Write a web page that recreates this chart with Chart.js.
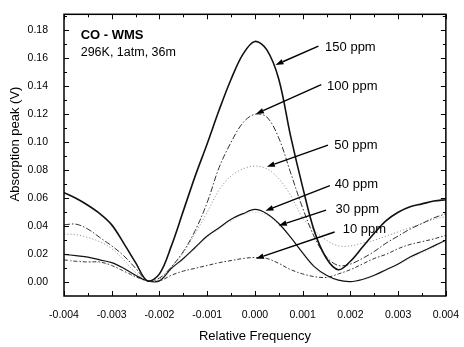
<!DOCTYPE html>
<html>
<head>
<meta charset="utf-8">
<script src="https://cdn.jsdelivr.net/npm/chart.js@4/dist/chart.umd.min.js"></script>
<style>
html,body{margin:0;padding:0;background:#fff;}
canvas{display:block;}
</style>
</head>
<body>
<canvas id="c" width="464" height="347"></canvas>
<script>
// ---- data ----
const freq = [-0.004,-0.00375,-0.0035,-0.00325,-0.003,-0.00275,-0.0025,-0.00225,-0.002,-0.00175,-0.0015,-0.00125,-0.001,-0.00075,-0.0005,-0.00025,0,
  0.00025,0.0005,0.00075,0.001,0.00125,0.0015,0.00175,0.002,0.00225,0.0025,0.00275,0.003,0.00325,0.0035,0.00375,0.004];
const ppm150 = [0.064,0.060,0.055,0.049,0.041,0.028,0.014,0.001,0.006,0.026,0.051,0.076,0.099,0.123,0.145,0.163,0.172,
  0.166,0.145,0.104,0.068,0.036,0.017,0.009,0.015,0.025,0.035,0.044,0.050,0.054,0.056,0.058,0.059];
const ppm100 = [0.041,0.0415,0.038,0.032,0.026,0.019,0.010,0.001,0.003,0.011,0.022,0.037,0.057,0.082,0.100,0.114,0.120,
  0.118,0.103,0.078,0.053,0.032,0.018,0.012,0.013,0.017,0.022,0.028,0.033,0.038,0.042,0.046,0.049];
const ppm50 = [0.0345,0.034,0.032,0.029,0.024,0.016,0.007,0.001,0.002,0.011,0.021,0.035,0.050,0.066,0.076,0.081,0.083,
  0.081,0.074,0.062,0.046,0.037,0.030,0.026,0.026,0.028,0.030,0.033,0.036,0.039,0.042,0.045,0.047];
const ppm40 = [0.020,0.019,0.018,0.016,0.014,0.010,0.005,0.001,0.001,0.010,0.017,0.025,0.033,0.039,0.045,0.049,0.052,
  0.049,0.042,0.032,0.021,0.011,0.005,0.0015,0.0005,0.002,0.005,0.009,0.013,0.018,0.022,0.026,0.030];
const ppm30 = [0.016,0.0152,0.0148,0.014,0.012,0.008,0.004,0.001,0.001,0.009,0.016,0.024,0.032,0.038,0.044,0.048,0.050,
  0.048,0.041,0.032,0.020,0.010,0.004,0.0012,0.0005,0.0018,0.0045,0.0085,0.0125,0.017,0.021,0.025,0.029];
const ppm10 = [0.016,0.015,0.0145,0.0145,0.012,0.008,0.004,0.001,0.001,0.005,0.008,0.010,0.012,0.014,0.0155,0.017,0.0177,
  0.017,0.0135,0.009,0.006,0.004,0.0035,0.006,0.009,0.013,0.017,0.020,0.024,0.027,0.029,0.031,0.0335];
const xTicks = [-0.004,-0.003,-0.002,-0.001,0,0.001,0.002,0.003,0.004];
const xMinor = [-0.0035,-0.0025,-0.0015,-0.0005,0.0005,0.0015,0.0025,0.0035];
const yTicks = [0,0.02,0.04,0.06,0.08,0.10,0.12,0.14,0.16,0.18];
const yMinor = [0.01,0.03,0.05,0.07,0.09,0.11,0.13,0.15,0.17,0.19];
const seriesNames = ['150 ppm','100 ppm','50 ppm','40 ppm','30 ppm','10 ppm'];
// label anchors [textX, textY, arrowTailX, arrowTailY, arrowTipX, arrowTipY] in data units
const labelPos = [
  [0.00147,0.168,0.00133,0.1687,0.00043,0.1552],
  [0.00151,0.140,0.00139,0.1412,0.00002,0.1202],
  [0.00166,0.098,0.00153,0.0980,0.00025,0.0825],
  [0.00167,0.0697,0.00157,0.0690,0.00022,0.0510],
  [0.00169,0.0522,0.00149,0.0515,0.00050,0.0405],
  [0.00184,0.0375,0.00167,0.0359,0.00002,0.0168]
];
const titleLines = ['CO - WMS','296K, 1atm, 36m'];

const FONT = "'Liberation Sans', Arial, sans-serif";
const pts = arr => freq.map((f,i)=>({x:f,y:arr[i]}));

const styles = [
  {data:ppm150, color:'#111', w:1.6, dash:[]},
  {data:ppm100, color:'#333', w:1.0, dash:[6,2,1.5,2]},
  {data:ppm50,  color:'#999', w:1.0, dash:[1.2,2]},
  {data:ppm40,  color:'#111', w:1.2, dash:[]},
  {data:ppm30,  color:'#bbb', w:0.8, dash:[1,2]},
  {data:ppm10,  color:'#333', w:1.0, dash:[4,2,1.5,2]}
];

const decor = {
  id:'decor',
  afterDraw(chart){
    const {ctx, chartArea:a, scales:{x,y}} = chart;
    ctx.save();
    ctx.strokeStyle='#000'; ctx.lineWidth=1;
    ctx.beginPath();
    const vt=(v,len)=>{const px=Math.round(x.getPixelForValue(v))+0.5;
      ctx.moveTo(px,a.bottom); ctx.lineTo(px,a.bottom-len);
      ctx.moveTo(px,a.top); ctx.lineTo(px,a.top+len);};
    const ht=(v,len)=>{const py=Math.round(y.getPixelForValue(v))+0.5;
      ctx.moveTo(a.left,py); ctx.lineTo(a.left+len,py);
      ctx.moveTo(a.right,py); ctx.lineTo(a.right-len,py);};
    xTicks.forEach(v=>vt(v,5)); xMinor.forEach(v=>vt(v,3));
    yTicks.forEach(v=>ht(v,5)); yMinor.forEach(v=>{ if(v<y.max) ht(v,3);});
    ctx.stroke();
    ctx.lineWidth=1.5;
    ctx.strokeRect(a.left, a.top, a.right-a.left, a.bottom-a.top);
    ctx.fillStyle='#000';
    ctx.textBaseline='middle'; ctx.textAlign='left';
    ctx.font='bold 13px '+FONT;
    ctx.fillText(titleLines[0], x.getPixelForValue(-0.00365), y.getPixelForValue(0.176));
    ctx.font='12.5px '+FONT;
    ctx.fillText(titleLines[1], x.getPixelForValue(-0.00365), y.getPixelForValue(0.1643));
    ctx.font='13px '+FONT;
    labelPos.forEach((p,i)=>{
      ctx.fillText(seriesNames[i], x.getPixelForValue(p[0]), y.getPixelForValue(p[1]));
      const x1=x.getPixelForValue(p[2]), y1=y.getPixelForValue(p[3]);
      const x2=x.getPixelForValue(p[4]), y2=y.getPixelForValue(p[5]);
      const ang=Math.atan2(y2-y1,x2-x1);
      const hl=8, hw=2.8;
      const bx=x2-hl*Math.cos(ang), by=y2-hl*Math.sin(ang);
      ctx.lineWidth=1.4; ctx.strokeStyle='#000';
      ctx.beginPath(); ctx.moveTo(x1,y1); ctx.lineTo(bx,by); ctx.stroke();
      ctx.beginPath();
      ctx.moveTo(x2,y2);
      ctx.lineTo(bx+hw*Math.sin(ang), by-hw*Math.cos(ang));
      ctx.lineTo(bx-hw*Math.sin(ang), by+hw*Math.cos(ang));
      ctx.closePath(); ctx.fill();
    });
    ctx.font='13px '+FONT;
    ctx.textAlign='center';
    ctx.fillText('Relative Frequency', (a.left+a.right)/2, 336);
    ctx.save();
    ctx.translate(15, 144);
    ctx.rotate(-Math.PI/2);
    ctx.fillText('Absorption peak (V)', 0, 0);
    ctx.restore();
    ctx.restore();
  }
};

new Chart(document.getElementById('c'), {
  type:'line',
  data:{
    datasets: styles.map((s,i)=>({
      label: seriesNames[i],
      data: pts(s.data),
      borderColor: s.color,
      borderWidth: s.w,
      borderDash: s.dash,
      pointRadius:0,
      fill:false,
      tension:0.35
    }))
  },
  options:{
    responsive:false,
    devicePixelRatio:1,
    animation:false,
    layout:{padding:{left:0,right:13,top:8,bottom:0}},
    plugins:{legend:{display:false},tooltip:{enabled:false}},
    scales:{
      x:{
        type:'linear', min:-0.004, max:0.004,
        afterFit:s=>{s.height=51;},
        afterBuildTicks:s=>{s.ticks=xTicks.map(v=>({value:v}));},
        grid:{display:false}, border:{display:false},
        ticks:{padding:5, maxRotation:0, autoSkip:false, color:'#000',
          font:{family:FONT,size:10.5},
          callback:v=>Number(v).toFixed(3)}
      },
      y:{
        type:'linear', min:-0.0098, max:0.1914,
        afterFit:s=>{s.width=64;},
        afterBuildTicks:s=>{s.ticks=yTicks.map(v=>({value:v}));},
        grid:{display:false}, border:{display:false},
        ticks:{padding:8, color:'#000', autoSkip:false,
          font:{family:FONT,size:10.5},
          callback:v=>Number(v).toFixed(2)}
      }
    }
  },
  plugins:[decor]
});
</script>
</body>
</html>
